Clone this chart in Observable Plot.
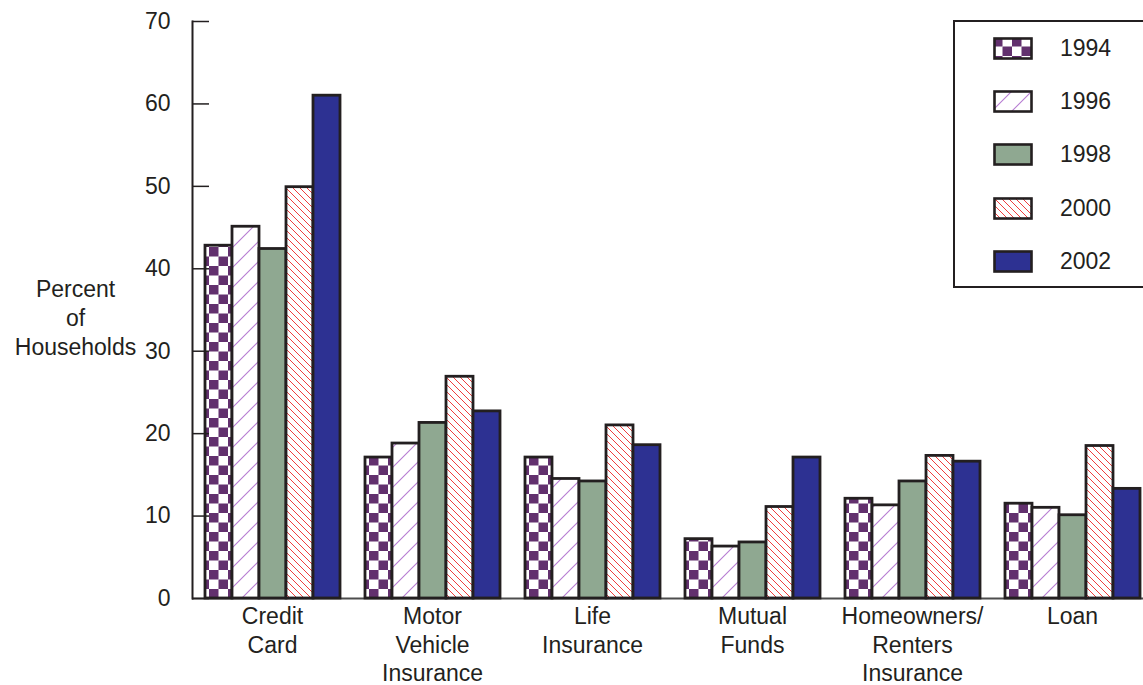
<!DOCTYPE html>
<html>
<head>
<meta charset="utf-8">
<script src="https://cdn.jsdelivr.net/npm/d3@7"></script>
<script src="https://cdn.jsdelivr.net/npm/@observablehq/plot@0.6"></script>
<style>
  html, body { margin: 0; padding: 0; background: #fff; overflow: hidden; }
  body { position: relative; width: 1143px; height: 685px; font-family: "Liberation Sans", Arial, Helvetica, sans-serif; color: #231f20; }
  #chart svg { display: block; }
  #legend { position: absolute; left: 953px; top: 20px; width: 200px; height: 268px; border: 2px solid #231f20; box-sizing: border-box; background: #fff; }
  #legend .row { position: absolute; left: 38px; height: 23px; display: flex; align-items: center; }
  #legend .row span { margin-left: 27px; font-size: 23px; line-height: 23px; }
</style>
</head>
<body>
<!-- fill patterns shared by the bars and the legend swatches -->
<svg width="0" height="0" style="position:absolute">
  <defs>
    <pattern id="checker" width="19" height="19" patternUnits="userSpaceOnUse">
      <rect width="19" height="19" fill="#fff"/>
      <rect width="9.5" height="9.5" fill="#62306e"/>
      <rect x="9.5" y="9.5" width="9.5" height="9.5" fill="#62306e"/>
    </pattern>
    <pattern id="slash" width="20" height="20" patternUnits="userSpaceOnUse">
      <rect width="20" height="20" fill="#fff"/>
      <path d="M-5,5 L5,-5 M0,20 L20,0 M15,25 L25,15" stroke="#b77cd2" stroke-width="1.1"/>
    </pattern>
    <pattern id="backslash" width="7" height="7" patternUnits="userSpaceOnUse">
      <rect width="7" height="7" fill="#fff"/>
      <path d="M-1,6 L1,8 M0,0 L7,7 M6,-1 L8,1" stroke="#ef3e3e" stroke-width="1"/>
    </pattern>
  </defs>
</svg>
<div id="chart"></div>
<div id="legend"></div>
<script>
// Household use of credit and insurance products, percent of households by survey year
const categories = ["Credit\nCard", "Motor\nVehicle\nInsurance", "Life\nInsurance", "Mutual\nFunds", "Homeowners/\nRenters\nInsurance", "Loan"];
const years = ["1994", "1996", "1998", "2000", "2002"];
const v1994 = [42.8, 17.1, 17.1, 7.2, 12.1, 11.5];
const v1996 = [45.1, 18.8, 14.5, 6.3, 11.3, 11.0];
const v1998 = [42.4, 21.3, 14.2, 6.8, 14.2, 10.1];
const v2000 = [49.9, 26.9, 21.0, 11.1, 17.3, 18.5];
const v2002 = [61.0, 22.7, 18.6, 17.1, 16.6, 13.3];
const yTicks = [0, 10, 20, 30, 40, 50, 60, 70];
const yLabel = "Percent\nof\nHouseholds";
const yearFills = ["url(#checker)", "url(#slash)", "#8fa891", "url(#backslash)", "#2d3192"];

const seriesByYear = [v1994, v1996, v1998, v2000, v2002];
const data = years.flatMap((year, i) =>
  categories.map((category, j) => ({category, year, value: seriesByYear[i][j]}))
);

const ink = "#231f20";

const chart = Plot.plot({
  width: 1143,
  height: 685,
  marginTop: 21,
  marginBottom: 87,
  marginLeft: 192,
  marginRight: 0,
  style: {fontFamily: "'Liberation Sans', Arial, Helvetica, sans-serif", fontSize: "23px", color: ink, background: "#fff", overflow: "hidden"},
  fx: {domain: categories, range: [192, 1152], padding: 0, label: null},
  x: {domain: years, padding: 0, insetLeft: 12.5, insetRight: 12.5, axis: null},
  y: {domain: [0, 70], label: null},
  color: {domain: years, range: yearFills},
  marks: [
    Plot.ruleY([0], {stroke: "#4d4d4d", strokeWidth: 2}),
    Plot.barY(data, {fx: "category", x: "year", y: "value", fill: "year", stroke: ink, strokeWidth: 2.8}),
    Plot.frame({anchor: "left", facetAnchor: "left", stroke: ink, strokeWidth: 2}),
    Plot.axisY({ticks: yTicks, tickSize: -17, tickPadding: 39, stroke: ink, strokeWidth: 1.5, fontSize: 23, label: null}),
    Plot.text([yLabel], {text: d => d, frameAnchor: "left", dx: -117, dy: 7, textAnchor: "middle", lineHeight: 1.25, fontSize: 23, fill: ink, facetAnchor: "left"}),
    Plot.axisFx({anchor: "bottom", tickSize: 0, tickPadding: 5, fontSize: 23, lineHeight: 1.25, label: null})
  ]
});
document.getElementById("chart").append(chart);

// Legend: one patterned swatch per survey year
const legend = d3.select("#legend");
years.forEach((year, i) => {
  const row = legend.append("div").attr("class", "row").style("top", `${15 + i * 53.2}px`);
  const sw = row.append("svg").attr("width", 40).attr("height", 23);
  sw.append("rect")
    .attr("x", 1.5).attr("y", 1.5).attr("width", 37).attr("height", 20)
    .attr("fill", yearFills[i]).attr("stroke", ink).attr("stroke-width", 2.6);
  row.append("span").text(year);
});
</script>
</body>
</html>
